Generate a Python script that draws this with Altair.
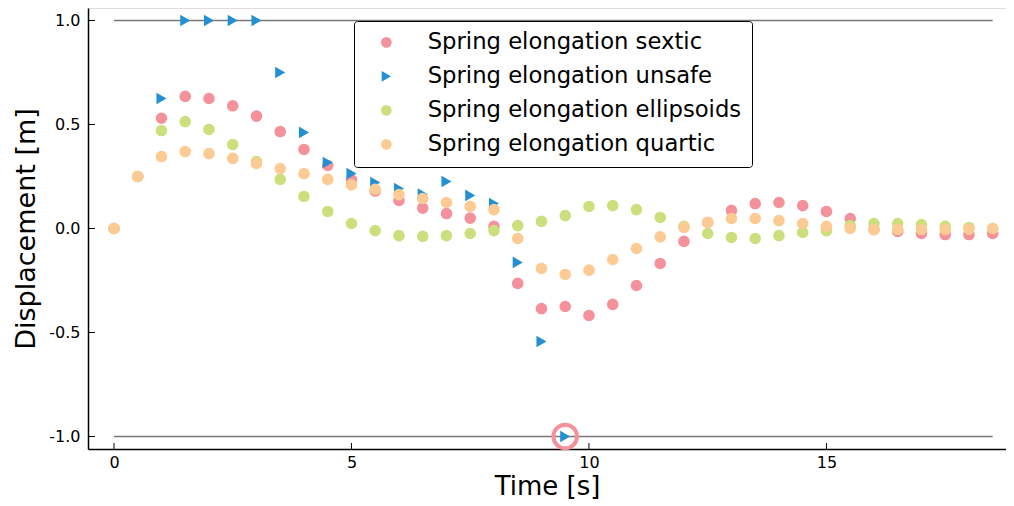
import altair as alt
import pandas as pd

# ---------------- data ----------------
time = [0.0, 0.5, 1.0, 1.5, 2.0, 2.5, 3.0, 3.5, 4.0, 4.5, 5.0, 5.5, 6.0, 6.5,
        7.0, 7.5, 8.0, 8.5, 9.0, 9.5, 10.0, 10.5, 11.0, 11.5, 12.0, 12.5,
        13.0, 13.5, 14.0, 14.5, 15.0, 15.5, 16.0, 16.5, 17.0, 17.5, 18.0, 18.5]

sextic = [0.0, 0.25, 0.53, 0.635, 0.625, 0.59, 0.54, 0.466, 0.38, 0.303,
          0.235, 0.18, 0.135, 0.098, 0.072, 0.05, 0.01, -0.264, -0.385,
          -0.375, -0.418, -0.365, -0.274, -0.168, -0.062, 0.029, 0.087,
          0.12, 0.125, 0.11, 0.082, 0.048, -0.005, -0.014, -0.024, -0.029,
          -0.029, -0.024]

unsafe_time = [1.0, 1.5, 2.0, 2.5, 3.0, 3.5, 4.0, 4.5, 5.0, 5.5,
               6.0, 6.5, 7.0, 7.5, 8.0, 8.5, 9.0, 9.5]
unsafe = [0.625, 1.0, 1.0, 1.0, 1.0, 0.75, 0.462, 0.317, 0.264,
          0.221, 0.192, 0.165, 0.226, 0.159, 0.12, -0.163, -0.543, -1.0]

ellipsoids = [0.0, 0.25, 0.471, 0.514, 0.476, 0.404, 0.322, 0.236, 0.154,
              0.082, 0.024, -0.01, -0.034, -0.038, -0.034, -0.024, -0.01,
              0.014, 0.034, 0.062, 0.106, 0.11, 0.091, 0.053, 0.01, -0.024,
              -0.043, -0.048, -0.034, -0.019, -0.01, 0.014, 0.024, 0.024,
              0.019, 0.01, 0.005, 0.0]

quartic = [0.0, 0.25, 0.346, 0.37, 0.36, 0.337, 0.313, 0.288, 0.264, 0.236,
           0.21, 0.188, 0.163, 0.144, 0.125, 0.106, 0.091, -0.048, -0.192,
           -0.221, -0.2, -0.149, -0.096, -0.04, 0.005, 0.029, 0.048, 0.048,
           0.038, 0.024, 0.01, 0.0, -0.005, -0.005, -0.005, -0.005, -0.003,
           0.0]

series_names = ["Spring elongation sextic", "Spring elongation unsafe",
                "Spring elongation ellipsoids", "Spring elongation quartic"]
series_colors = ["#f4919a", "#2490d1", "#cbe07c", "#fccb93"]
series_shapes = ["circle", "triangle-right", "circle", "circle"]

bound_values = [-1.0, 1.0]
bound_start = [0.0, 0.0]
bound_end = [18.5, 18.5]

fail_time = [9.5]
fail_disp = [-1.0]

x_ticks = [0, 5, 10, 15]
y_ticks = [-1.0, -0.5, 0.0, 0.5, 1.0]

# ---------------- tables ----------------
rows = []
for name, ts, vs in [(series_names[0], time, sextic),
                     (series_names[1], unsafe_time, unsafe),
                     (series_names[2], time, ellipsoids),
                     (series_names[3], time, quartic)]:
    for t, v in zip(ts, vs):
        rows.append({"time": t, "disp": v, "series": name})
points_df = pd.DataFrame(rows)
points_df["order"] = points_df["series"].map({n: i for i, n in enumerate(series_names)})

bounds_df = pd.DataFrame({"y": bound_values, "x": bound_start, "x2": bound_end})
fail_df = pd.DataFrame({"time": fail_time, "disp": fail_disp})
xt_df = pd.DataFrame({"t": x_ticks})
yt_df = pd.DataFrame({"v": y_ticks})

FONT = "DejaVu Sans"
xscale = alt.Scale(domain=[-0.547, 18.78], nice=False, zero=False)
yscale = alt.Scale(domain=[-1.06, 1.06], nice=False, zero=False)

x_axis = alt.Axis(values=x_ticks, format="d", ticks=False, grid=False,
                  domainColor="black", domainWidth=1.5, labelFont=FONT,
                  labelFontSize=16, labelColor="black", labelPadding=5,
                  title="Time [s]", titleFont=FONT, titleFontSize=26,
                  titleFontWeight="normal", titleColor="black", titlePadding=3)
y_axis = alt.Axis(values=y_ticks, ticks=False, grid=False,
                  labelExpr="replace(format(datum.value, '.1f'), '\u2212', '-')",
                  domainColor="black", domainWidth=1.5, labelFont=FONT,
                  labelFontSize=16, labelColor="black", labelPadding=8,
                  title="Displacement [m]", titleFont=FONT, titleFontSize=27,
                  titleFontWeight="normal", titleColor="black", titlePadding=8)

bounds = alt.Chart(bounds_df).mark_rule(color="#777777", strokeWidth=1.5).encode(
    x=alt.X("x:Q", scale=xscale, axis=x_axis),
    x2="x2:Q",
    y=alt.Y("y:Q", scale=yscale, axis=y_axis),
)

points = alt.Chart(points_df).mark_point(filled=True, opacity=1, size=135, strokeWidth=0).encode(
    x=alt.X("time:Q", scale=xscale),
    y=alt.Y("disp:Q", scale=yscale),
    color=alt.Color("series:N",
                    scale=alt.Scale(domain=series_names, range=series_colors),
                    legend=alt.Legend(orient="none", legendX=266, legendY=13,
                                      title=None, labelFont=FONT,
                                      labelFontSize=22.7, labelColor="black",
                                      labelLimit=600, symbolSize=115,
                                      symbolOpacity=1, symbolStrokeWidth=0,
                                      padding=10, symbolOffset=11,
                                      labelOffset=30, rowPadding=10,
                                      strokeColor="black", fillColor="white",
                                      cornerRadius=3)),
    shape=alt.Shape("series:N",
                    scale=alt.Scale(domain=series_names, range=series_shapes)),
    order=alt.Order("order:Q"),
)

fail = alt.Chart(fail_df).mark_point(shape="circle", filled=False, size=557,
                                     strokeWidth=4, color="#f4919a", opacity=1).encode(
    x=alt.X("time:Q", scale=xscale),
    y=alt.Y("disp:Q", scale=yscale),
)

xticks = alt.Chart(xt_df).mark_rule(color="black", strokeWidth=1).encode(
    x=alt.X("t:Q", scale=xscale),
    y=alt.value(441), y2=alt.value(435),
)
yticks = alt.Chart(yt_df).mark_rule(color="black", strokeWidth=1).encode(
    y=alt.Y("v:Q", scale=yscale),
    x=alt.value(0), x2=alt.value(7),
)

chart = alt.layer(bounds, fail, points, xticks, yticks).properties(
    width=918, height=441,
    autosize=alt.AutoSizeParams(type="none"),
    padding={"left": 80, "top": 0, "right": 0, "bottom": 50},
).configure_view(stroke=None).configure(background="white")

chart.save("out.html", embed_options={"renderer": "svg", "actions": False})
